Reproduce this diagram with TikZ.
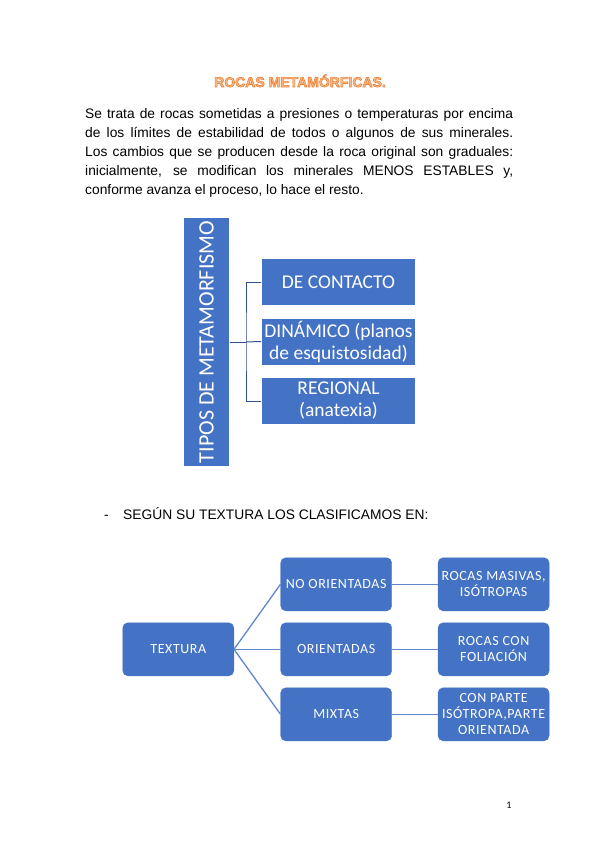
\documentclass[tikz,border=0pt]{standalone}
\usepackage{xcolor}
\usepackage{fontspec}
\setmainfont{Liberation Sans}
\newfontfamily\calibri{Carlito}
\newfontfamily\calibriesp[LetterSpace=4]{Carlito}
\usepackage{tikz}
\usetikzlibrary{positioning}
\tikzset{>=latex}
\definecolor{azul}{RGB}{68,114,196}
\definecolor{azulosc}{RGB}{47,82,143}
\definecolor{naranja}{RGB}{237,125,49}
% texto con contorno (titulo)
\newcommand{\contorno}[1]{\special{pdf:literal direct 2 Tr 0.6 w}\special{pdf:literal direct 0.97 0.74 0.56 rg}#1\special{pdf:literal direct 0 Tr}}
\tikzset{
  tipo/.style={fill=azul, draw=white, line width=0.8pt, text=white, align=center,
    minimum width=154, minimum height=47, inner sep=0pt,
    font=\calibri\fontsize{19.5}{22}\selectfont},
  caja/.style={fill=azul, draw=azul, rounded corners=5pt, text=white, align=center,
    minimum width=111, minimum height=53, inner sep=0pt,
    font=\calibriesp\fontsize{14}{16}\selectfont},
  rama/.style={draw=azulosc, line width=1pt},
  enlace/.style={draw=azul!85!white, line width=1.3pt}
}

\begin{document}
\begin{tikzpicture}[x=1pt,y=-1pt]
    \useasboundingbox[fill=white] (0,0) rectangle (599,848);
    % titulo y texto
    \node[font=\bfseries\fontsize{14}{16}\selectfont, text=naranja, anchor=base] (titulo) at (300,87) {\contorno{ROCAS METAMÓRFICAS.}};
    \node[anchor=base west, text width=428, align=justify, inner sep=0pt,
      font=\fontsize{13.8}{18.8}\selectfont] (texto) at (85,119)
      {Se trata de rocas sometidas a presiones o temperaturas por encima\linebreak
       de los límites de estabilidad de todos o algunos de sus minerales.\linebreak
       Los cambios que se producen desde la roca original son graduales:\linebreak
       inicialmente, se modifican los minerales MENOS ESTABLES y,\linebreak
       conforme avanza el proceso, lo hace el resto.};

    % tipos de metamorfismo
    \node[fill=azul, draw=white, text=white, rotate=90, minimum width=249, minimum height=46,
      inner sep=0pt, font=\calibri\fontsize{22}{24}\selectfont] (tipos) at (206.5,342) {TIPOS DE METAMORFISMO};
    \node[tipo] (contacto) at (338.5,282) {DE CONTACTO};
    \node[tipo] (dinamico) at (338.5,341.5) {DINÁMICO (planos\\de esquistosidad)};
    \node[tipo] (regional) at (338.5,401) {REGIONAL\\(anatexia)};
    \coordinate (nudo) at (246,342);
    \draw[rama] (tipos.south) -- (nudo);
    \draw[rama] (contacto.west) -| (nudo) |- (regional.west);
    \draw[rama] (nudo) -- (dinamico.west);

    % textura
    \node[anchor=base west, font=\fontsize{13.8}{15}\selectfont, inner sep=0pt] (guion) at (104,519) {-};
    \node[anchor=base west, font=\fontsize{13.8}{15}\selectfont, inner sep=0pt] (segun) at (123,519) {SEGÚN SU TEXTURA LOS CLASIFICAMOS EN:};

    \node[caja] (textura) at (178.3,649.3) {TEXTURA};
    \node[caja] (noorient) at (336.2,584.3) {NO ORIENTADAS};
    \node[caja] (orient) at (336.2,649.3) {ORIENTADAS};
    \node[caja] (mixtas) at (336.2,714.3) {MIXTAS};
    \node[caja, right=46 of noorient] (masivas) {ROCAS MASIVAS,\\ISÓTROPAS};
    \node[caja, right=46 of orient] (foliacion) {ROCAS CON\\FOLIACIÓN};
    \node[caja, right=46 of mixtas] (parte) {CON PARTE\\ISÓTROPA,PARTE\\ORIENTADA};
    \draw[enlace] (textura.east) -- (noorient.west);
    \draw[enlace] (textura.east) -- (orient.west);
    \draw[enlace] (textura.east) -- (mixtas.west);
    \draw[enlace] (noorient) -- (masivas);
    \draw[enlace] (orient) -- (foliacion);
    \draw[enlace] (mixtas) -- (parte);

    \node[font=\calibri\fontsize{10}{12}\selectfont] (pagina) at (509,805) {1};
\end{tikzpicture}
\end{document}
